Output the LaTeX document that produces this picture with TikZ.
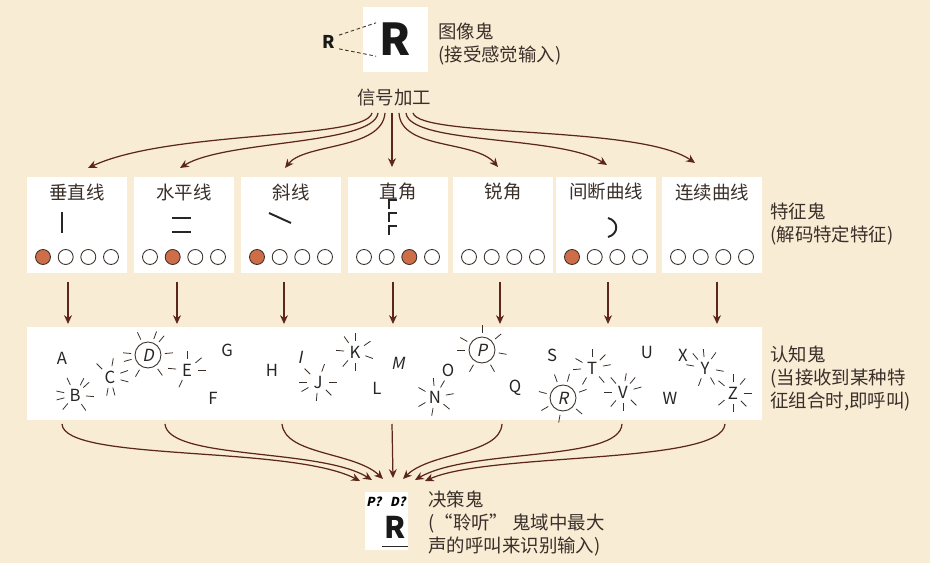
\documentclass[tikz,border=0pt]{standalone}
\usepackage{fontspec}
\setmainfont{Noto Sans CJK SC}
\newfontfamily\slantfont[FakeSlant=0.2]{Noto Sans CJK SC}
\usetikzlibrary{arrows.meta,calc}

\definecolor{paper}{RGB}{249,236,212}
\definecolor{arrowbrown}{RGB}{92,38,28}
\definecolor{dotorange}{RGB}{206,110,72}
\definecolor{inkgray}{RGB}{58,48,42}

% short rays round a calling letter: node, inner radius, outer radius, angles
\newcommand\burst[4]{%
  \foreach \a in {#4} \draw[ray] ($(#1)+({-\a}:#2)$) -- ($(#1)+({-\a}:#3)$);}

\begin{document}
\begin{tikzpicture}[
    x=0.02cm, y=-0.02cm,
    >={Stealth[length=5pt,width=4.5pt]},
    panel/.style={fill=white, draw=none, inner sep=0pt},
    note/.style={font=\fontsize{10.5}{13}\selectfont, text=inkgray, align=left, anchor=north west, inner sep=0pt},
    ftitle/.style={font=\fontsize{10.5}{12}\selectfont, text=inkgray, inner sep=0pt},
    dot/.style={circle, draw=inkgray, line width=0.5pt, fill=white, minimum size=0.3cm, inner sep=0pt},
    hot/.style={dot, fill=dotorange},
    arr/.style={->, draw=arrowbrown, line width=0.7pt},
    letter/.style={font=\fontsize{9.5}{10}\selectfont, text=black!85, inner sep=0pt},
    slanted/.style={letter, font=\slantfont\fontsize{9.5}{10}\selectfont},
    loud/.style={slanted, circle, draw=inkgray, line width=0.5pt, minimum size=0.52cm},
    ray/.style={draw=inkgray, line width=0.45pt},
    glyph/.style={draw=black!85, line width=1.3pt}
]
  % Paper
  \fill[paper] (0,0) rectangle (930,563);
  \useasboundingbox (0,0) rectangle (930,563);

  % Image demon
  \node[panel, minimum width=1.3cm, minimum height=1.3cm] (img) at (395.5,39.5) {};
  \node[font=\fontsize{25}{25}\selectfont\bfseries, text=black!90, inner sep=0pt] (bigR) at (img) {R};
  \node[font=\fontsize{10}{10}\selectfont\bfseries, text=black!90, inner sep=0pt] (smallR) at (329,42) {R};
  \draw[dashed, dash pattern=on 2pt off 1.5pt, line width=0.5pt, inkgray]
    ([xshift=2pt]smallR.north east) -- ([xshift=-2pt]bigR.north west);
  \draw[dashed, dash pattern=on 2pt off 1.5pt, line width=0.5pt, inkgray]
    ([xshift=2pt]smallR.south east) -- ([xshift=-2pt]bigR.south west);
  \node[note] (imglab) at (438,23) {图像鬼\\(接受感觉输入)};

  % Signal processing
  \node[ftitle] (sig) at (394,98) {信号加工};
  \foreach \x [count=\i] in {372,378,385,392,399,406,413}
    \coordinate (s\i) at (\x,113);
  \foreach \x/\y [count=\i] in {88/168,180/168,285/168,392/167,498/167,607/165,695/163}
    \coordinate (t\i) at (\x,\y);
  \draw[arr] (s1) .. controls (366,140) and (170,130) .. (t1);
  \draw[arr] (s2) .. controls (374,145) and (225,140) .. (t2);
  \draw[arr] (s3) .. controls (382,150) and (305,143) .. (t3);
  \draw[arr] (s4) -- (t4);
  \draw[arr] (s5) .. controls (401,150) and (475,140) .. (t5);
  \draw[arr] (s6) .. controls (410,145) and (560,135) .. (t6);
  \draw[arr] (s7) .. controls (420,138) and (640,125) .. (t7);

  % Feature demons
  \foreach \x/\t/\h [count=\i] in {77/垂直线/1, 184/水平线/2, 291/斜线/1, 398/直角/3,
                                   503/锐角/0, 606/间断曲线/1, 712/连续曲线/0} {
    \node[panel, minimum width=2cm, minimum height=1.92cm] (f\i) at (\x,225) {};
    \node[ftitle] (ft\i) at (\x,192) {\t};
    \foreach \k/\dx in {1/-34,2/-11.3,3/11.3,4/34} {
      \ifnum\k=\h\relax
        \node[hot] (d\i\k) at ({\x+(\dx)},257) {};
      \else
        \node[dot] (d\i\k) at ({\x+(\dx)},257) {};
      \fi
    }
  }
  \draw[glyph] (62,212) -- (62,233);
  \draw[glyph] (172,218) -- (191,218);
  \draw[glyph] (172,232) -- (191,232);
  \draw[glyph, line width=1.1pt] (269,213) -- (291,223);
  \foreach \y in {200,213,226}
    \draw[glyph, line width=1.1pt] (389,\y+9) -- (389,\y) -- (397,\y);
  \draw[glyph, line width=1.1pt] (608,218) .. controls (619,221) and (619,234) .. (608,237);
  \node[note] (featlab) at (770,203) {特征鬼\\(解码特定特征)};

  \foreach \x [count=\i] in {68,177,284,393,500,608,717} {
    \coordinate (fo\i) at (\x,282);
    \coordinate (ci\i) at (\x,324);
    \draw[arr] (fo\i) -- (ci\i);
  }

  % Cognitive demons
  \node[panel, minimum width=14.7cm, minimum height=1.86cm] (cog) at (394.5,373.5) {};
  \foreach \c/\x/\y in {A/62/358, B/75/395, C/110/377, E/187/370, G/227/350, F/213/398,
                        H/272/370, J/318/382, K/355/352, L/377/388, N/435/397, O/448/370,
                        Q/515/388, S/552/355, T/592/368, U/647/352, V/623/392, W/670/398,
                        X/683/355, Y/705/368, Z/733/393}
    \node[letter] (l\c) at (\x,\y) {\c};
  \foreach \c/\x/\y in {I/300/357, M/398/363}
    \node[slanted] (l\c) at (\x,\y) {\c};
  \foreach \c/\x/\y in {D/148/355, P/482/350, R/563/398}
    \node[loud] (l\c) at (\x,\y) {\c};

  \burst{lB}{11}{19}{115,62,42,-5,-55,-130,195,168}
  \burst{lC}{11}{19}{135,80,20,-15,-75,-100}
  \burst{lE}{11}{19}{90,40,0,175,-115}
  \burst{lJ}{11}{19}{135,70,0,180,-150,-95,-45}
  \burst{lK}{11}{19}{90,125,35,175,-130,-20,-90}
  \burst{lN}{11}{19}{95,150,60,10,-150,-100,-40}
  \burst{lT}{11}{19}{150,90,45,10,185,-120,-50}
  \burst{lV}{11}{19}{130,80,50,15,180,-130,-90,-45}
  \burst{lY}{11}{19}{95,55,130,170,-10,-110,-60}
  \burst{lZ}{11}{19}{90,50,0,140,-140,-90,-45}
  \burst{lD}{17}{25}{115,70,50,5,-55,-120,175,195}
  \burst{lP}{17}{25}{90,40,-10,-60,-120,180,150}
  \burst{lR}{17}{25}{110,75,20,165,-150,-40,-100}
  \node[note] (coglab) at (770,346) {认知鬼\\(当接收到某种特\\征组合时,即呼叫)};

  \foreach \x [count=\i] in {62,165,282,392,502,622,725}
    \coordinate (co\i) at (\x,424);
  \foreach \x/\y [count=\i] in {360/481,372/480,383/479,393/478,403/479,415/480,425/481}
    \coordinate (di\i) at (\x,\y);
  \draw[arr] (co1) .. controls (64,462) and (290,445) .. (di1);
  \draw[arr] (co2) .. controls (168,460) and (320,448) .. (di2);
  \draw[arr] (co3) .. controls (285,455) and (355,452) .. (di3);
  \draw[arr] (co4) -- (di4);
  \draw[arr] (co5) .. controls (500,455) and (430,452) .. (di5);
  \draw[arr] (co6) .. controls (620,462) and (470,448) .. (di6);
  \draw[arr] (co7) .. controls (722,465) and (490,452) .. (di7);

  % Decision demon
  \node[panel, minimum width=0.86cm, minimum height=1.16cm] (dec) at (386.5,521) {};
  \node[font=\slantfont\bfseries\fontsize{7}{7}\selectfont, inner sep=0pt] (askP) at (374,502) {P?};
  \node[font=\slantfont\bfseries\fontsize{7}{7}\selectfont, inner sep=0pt] (askD) at (398,502) {D?};
  \node[font=\fontsize{17}{17}\selectfont\bfseries, text=black!90, inner sep=0pt] (decR) at (395,527) {R};
  \draw[line width=0.8pt, black!85] ([yshift=-4.5pt,xshift=-1pt]decR.south west) -- ([yshift=-4.5pt,xshift=1pt]decR.south east);
  \node[note] (declab) at (428,491) {决策鬼\\(“聆听” 鬼域中最大\\声的呼叫来识别输入)};
\end{tikzpicture}
\end{document}
